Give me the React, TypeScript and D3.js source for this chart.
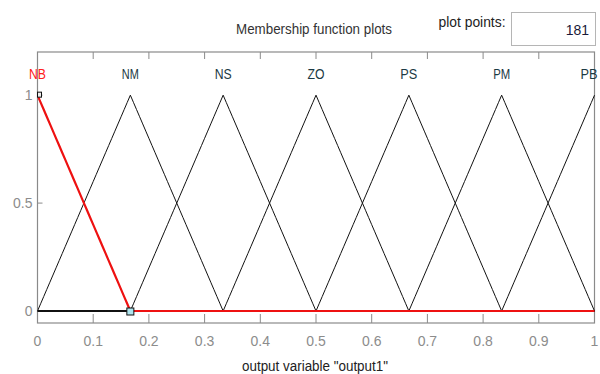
import React from "react";
import * as d3 from "d3";

// Output variable membership functions (triangular: [a, b, c])
const mfNames = ["NB", "NM", "NS", "ZO", "PS", "PM", "PB"];
const mfA = [-0.1667, 0, 0.1667, 0.3333, 0.5, 0.6667, 0.8333];
const mfB = [0, 0.1667, 0.3333, 0.5, 0.6667, 0.8333, 1];
const mfC = [0.1667, 0.3333, 0.5, 0.6667, 0.8333, 1, 1.1667];
const selectedIndex = 0;
const xTicks = [0, 0.1, 0.2, 0.3, 0.4, 0.5, 0.6, 0.7, 0.8, 0.9, 1];
const xTickLabels = ["0", "0.1", "0.2", "0.3", "0.4", "0.5", "0.6", "0.7", "0.8", "0.9", "1"];
const yTicks = [0, 0.5, 1];
const yTickLabels = ["0", "0.5", "1"];
const plotPoints = 181;
const xRange = [0, 1];

const W = 600;
const H = 374;
const FONT = "'Liberation Sans Narrow', 'Liberation Sans', Arial, sans-serif";

function trimf(x: number, a: number, b: number, c: number) {
  const left = b === a ? (x >= b ? 1 : 0) : (x - a) / (b - a);
  const right = c === b ? (x <= b ? 1 : 0) : (c - x) / (c - b);
  return Math.max(0, Math.min(left, right, 1));
}

export default function App() {
  const x = d3.scaleLinear().domain([0, 1]).range([37.5, 594.5]);
  const y = d3.scaleLinear().domain([-0.0556, 1.2]).range([323, 52]);

  const samples = d3.range(plotPoints).map(
    (i) => xRange[0] + ((xRange[1] - xRange[0]) * i) / (plotPoints - 1)
  );
  // include breakpoints so peaks and corners are sharp
  const curve = (k: number) => {
    const pts = Array.from(
      new Set([...samples, mfA[k], mfB[k], mfC[k]].filter((v) => v >= 0 && v <= 1))
    ).sort((p, q) => p - q);
    return pts.map((v) => [v, trimf(v, mfA[k], mfB[k], mfC[k])] as [number, number]);
  };
  const line = d3
    .line<[number, number]>()
    .x((d) => x(d[0]))
    .y((d) => y(d[1]));

  const x0 = x(0);
  const x1 = x(1);
  const yTop = y(1.2);
  const yBot = y(-0.0556);
  const axisColor = "#8a8a8a";
  const tickText = "#8c8c8c";

  const sel = selectedIndex;
  const selPts = curve(sel);

  return (
    <svg width={W} height={H} style={{ position: "absolute", left: 0, top: 0, background: "#fff" }}>
      <rect x={0} y={0} width={W} height={H} fill="#fff" />
      {/* header */}
      <text x={314} y={34} textAnchor="middle" fontFamily={FONT} fontSize={14} fill="#333" textLength={156} lengthAdjust="spacingAndGlyphs">
        Membership function plots
      </text>
      <text x={472} y={27} textAnchor="middle" fontFamily={FONT} fontSize={14} fill="#222" textLength={67} lengthAdjust="spacingAndGlyphs">
        plot points:
      </text>
      <rect x={511.5} y={12.5} width={84} height={33} fill="#fff" stroke="#b5b5b5" strokeWidth={1} />
      <text x={589} y={35} textAnchor="end" fontFamily={FONT} fontSize={14} fill="#1a1a3a">
        {plotPoints}
      </text>

      {/* axes box */}
      <rect x={x0} y={yTop} width={x1 - x0} height={yBot - yTop} fill="#fff" stroke={axisColor} strokeWidth={1.2} />
      {xTicks.map((t, i) => (
        <g key={"xt" + i}>
          <line x1={x(t)} x2={x(t)} y1={yTop} y2={yTop + 7} stroke={axisColor} strokeWidth={1} />
          <line x1={x(t)} x2={x(t)} y1={yBot} y2={yBot - 9} stroke={axisColor} strokeWidth={1} />
          <text x={x(t)} y={346} textAnchor="middle" fontFamily={FONT} fontSize={14} fill={tickText}>
            {xTickLabels[i]}
          </text>
        </g>
      ))}
      {yTicks.map((t, i) => (
        <g key={"yt" + i}>
          <line x1={x0} x2={x0 + 5} y1={y(t)} y2={y(t)} stroke={axisColor} strokeWidth={1} />
          <text x={x0 - 5} y={y(t) + 5} textAnchor="end" fontFamily={FONT} fontSize={14} fill={tickText}>
            {yTickLabels[i]}
          </text>
        </g>
      ))}

      <clipPath id="plotClip">
        <rect x={x0} y={yTop} width={x1 - x0 + 1} height={yBot - yTop} />
      </clipPath>

      {/* unselected membership functions */}
      <g clipPath="url(#plotClip)">
        {mfNames.map((_, k) =>
          k === sel ? null : (
            <path key={"mf" + k} d={line(curve(k)) || ""} fill="none" stroke="#111" strokeWidth={1} />
          )
        )}
        <line x1={x0} x2={x1} y1={y(0)} y2={y(0)} stroke="#111" strokeWidth={1.4} />
        {/* selected membership function */}
        <path d={line(selPts) || ""} fill="none" stroke="#ee1111" strokeWidth={2.2} strokeLinejoin="round" />
      </g>

      {/* handles on the selected function */}
      <rect x={x(mfB[sel]) + 0} y={y(1) - 3} width={4} height={5} fill="#eee" stroke="#111" strokeWidth={1} />
      <rect x={x(mfC[sel]) - 3.5} y={y(0) - 3} width={7} height={7} fill="#aee4ee" stroke="#111" strokeWidth={1} />

      {/* membership function names */}
      {mfNames.map((n, k) => {
        const cx = Math.min(x(mfB[k]), W - 11);
        return (
          <text
            key={"lbl" + k}
            x={cx}
            y={79}
            textAnchor="middle"
            fontFamily={FONT}
            fontSize={15}
            fill={k === sel ? "#ff2020" : "#1c3a44"}
            textLength={17}
            lengthAdjust="spacingAndGlyphs"
          >
            {n}
          </text>
        );
      })}

      <text x={315} y={371} textAnchor="middle" fontFamily={FONT} fontSize={14} fill="#222" textLength={146} lengthAdjust="spacingAndGlyphs">
        output variable "output1"
      </text>
    </svg>
  );
}
